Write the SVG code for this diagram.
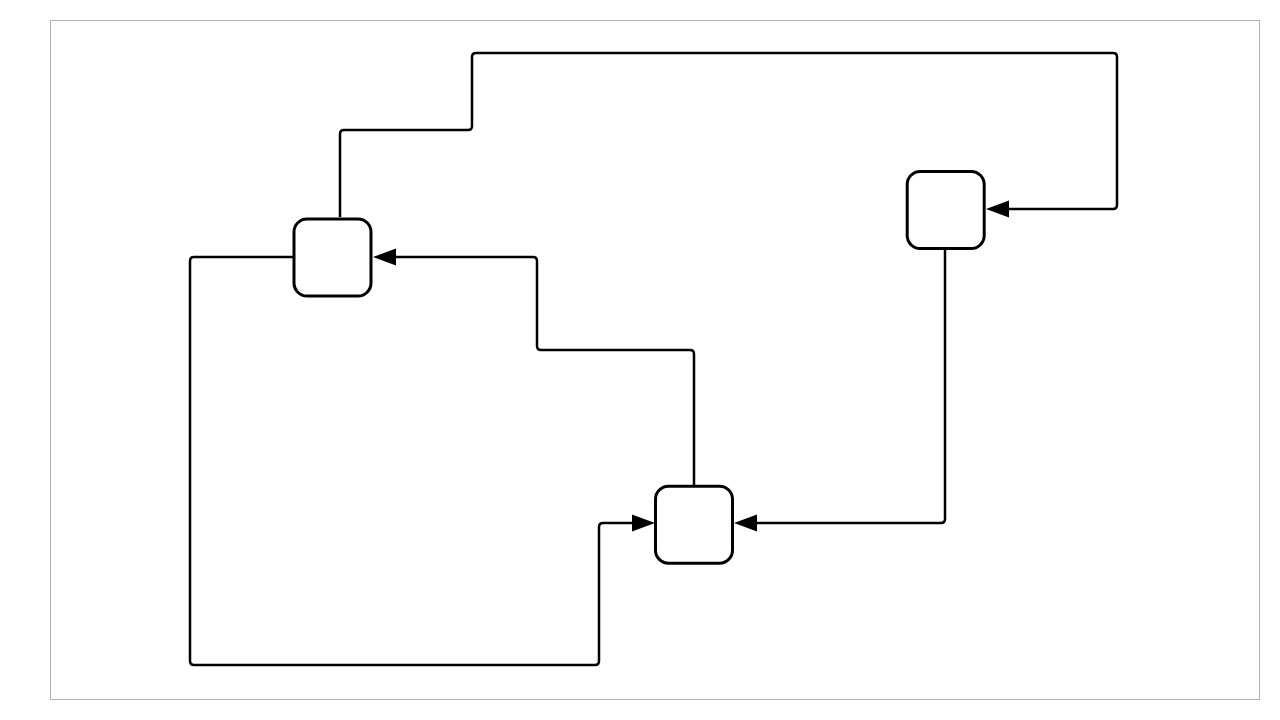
<svg xmlns="http://www.w3.org/2000/svg" width="1280" height="720" viewBox="0 0 1280 720">
  <defs>
    <marker id="arrow" markerUnits="userSpaceOnUse" markerWidth="23" markerHeight="18" refX="0" refY="9" orient="auto">
      <path d="M0,0.5 L23,9 L0,17.5 Z" fill="#000"/>
    </marker>
    <style>
      .frame { fill: #fff; stroke: #b3b3b3; stroke-width: 1; }
      .node rect { fill: #fff; stroke: #000; stroke-width: 3; }
      .edge { fill: none; stroke: #000; stroke-width: 2.5; stroke-linejoin: round; }
      .edge.arrow { marker-end: url(#arrow); }
    </style>
  </defs>

  <rect width="1280" height="720" fill="#fff"/>
  <rect class="frame" x="50.5" y="20.5" width="1209" height="679"/>

  <g id="connectors">
    <!-- A (top) to B (right side) -->
    <path class="edge arrow" d="M340,217 V134 Q340,130 344,130 H468 Q472,130 472,126 V57 Q472,53 476,53 H1113 Q1117,53 1117,57 V205 Q1117,209 1113,209 H1009"/>
    <!-- A (left) to C (left side) -->
    <path class="edge arrow" d="M293,257 H194 Q190,257 190,261 V661 Q190,665 194,665 H595 Q599,665 599,661 V527 Q599,523 603,523 H632"/>
    <!-- C (top) to A (right side) -->
    <path class="edge arrow" d="M694,485 V354 Q694,350 690,350 H541 Q537,350 537,346 V261 Q537,257 533,257 H396"/>
    <!-- B (bottom) to C (right side) -->
    <path class="edge arrow" d="M945,250 V519 Q945,523 941,523 H757"/>
  </g>

  <g id="node-a" class="node">
    <rect x="294" y="219" width="77" height="77" rx="13"/>
  </g>
  <g id="node-b" class="node">
    <rect x="907.2" y="171.5" width="77" height="77" rx="13"/>
  </g>
  <g id="node-c" class="node">
    <rect x="655.5" y="486.2" width="77" height="77" rx="13"/>
  </g>
</svg>
